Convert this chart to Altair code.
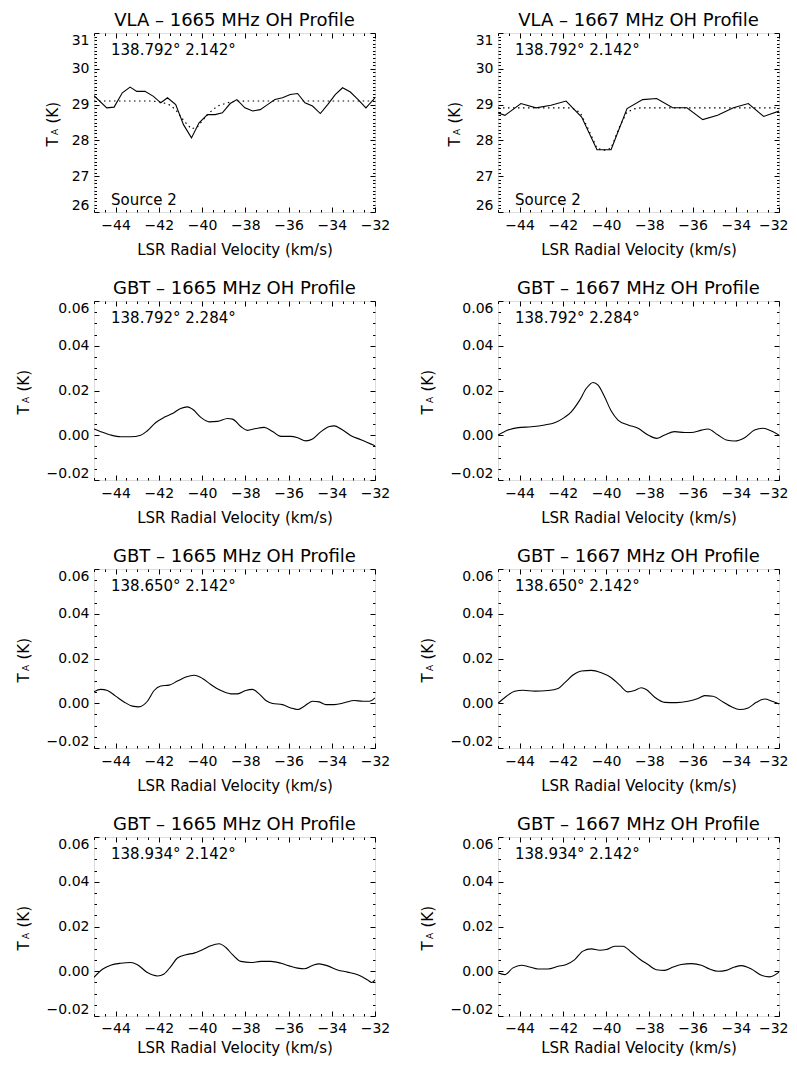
import altair as alt
import pandas as pd

FONT = "DejaVu Sans"
W, H = 281, 179

# ---------------- data ----------------
X_DOMAIN = [-45, -32]
X_MAJOR = [-44, -42, -40, -38, -36, -34, -32]
X_MINOR = [round(-45 + 0.5 * k, 2) for k in range(27) if (-45 + 0.5 * k) not in X_MAJOR]

VLA_DOMAIN = [26, 31]
VLA_MAJOR = [26, 27, 28, 29, 30, 31]
VLA_MINOR = [round(26 + 0.1 * k, 1) for k in range(51) if k % 10 != 0]

GBT_DOMAIN = [-0.02, 0.06]
GBT_MAJOR = [-0.02, 0.0, 0.02, 0.04, 0.06]
GBT_MINOR = [round(-0.02 + 0.005 * k, 3) for k in range(17) if k % 4 != 0]

TITLES = [
    "VLA \u2013 1665 MHz OH Profile", "VLA \u2013 1667 MHz OH Profile",
    "GBT \u2013 1665 MHz OH Profile", "GBT \u2013 1667 MHz OH Profile",
    "GBT \u2013 1665 MHz OH Profile", "GBT \u2013 1667 MHz OH Profile",
    "GBT \u2013 1665 MHz OH Profile", "GBT \u2013 1667 MHz OH Profile",
]
COORDS = [
    "138.792\u00b0 2.142\u00b0", "138.792\u00b0 2.142\u00b0",
    "138.792\u00b0 2.284\u00b0", "138.792\u00b0 2.284\u00b0",
    "138.650\u00b0 2.142\u00b0", "138.650\u00b0 2.142\u00b0",
    "138.934\u00b0 2.142\u00b0", "138.934\u00b0 2.142\u00b0",
]

vla1665_v = [-45.0, -44.41, -44.07, -43.69, -43.33, -43.02, -42.64, -42.25, -41.91, -41.60,
             -41.22, -40.86, -40.49, -40.14, -39.75, -39.40, -39.06, -38.70, -38.39, -38.02,
             -37.66, -37.31, -36.97, -36.63, -36.28, -35.92, -35.58, -35.24, -34.89, -34.53,
             -34.19, -33.84, -33.50, -33.14, -32.78, -32.42, -32.0]
vla1665_t = [29.25, 28.91, 28.93, 29.33, 29.49, 29.37, 29.37, 29.23, 29.05, 29.19,
             29.00, 28.44, 28.07, 28.49, 28.72, 28.72, 28.77, 29.03, 29.14, 28.91,
             28.82, 28.86, 29.00, 29.14, 29.19, 29.28, 29.31, 29.05, 28.96, 28.75,
             29.00, 29.28, 29.47, 29.35, 29.14, 28.91, 29.19]
vla1665_fit_v = [-45.0, -42.3, -41.91, -41.53, -41.22, -40.86, -40.49, -40.21, -39.98, -39.67,
                 -39.29, -38.82, -38.51, -38.0, -32.0]
vla1665_fit_t = [29.10, 29.10, 29.07, 29.00, 28.86, 28.56, 28.32, 28.38, 28.56, 28.77,
                 28.96, 29.05, 29.09, 29.10, 29.10]

vla1667_v = [-45.0, -44.68, -43.94, -43.24, -42.55, -41.85, -41.13, -40.42, -39.77, -39.03,
             -38.31, -37.66, -36.92, -36.26, -35.53, -34.84, -34.11, -33.42, -32.71, -32.0]
vla1667_t = [28.77, 28.70, 29.03, 28.91, 28.98, 29.10, 28.65, 27.74, 27.74, 28.89,
             29.14, 29.17, 28.91, 28.91, 28.58, 28.70, 28.91, 29.03, 28.67, 28.82]
vla1667_fit_v = [-45.0, -41.6, -41.2, -40.85, -40.42, -40.1, -39.77, -39.4, -39.05, -38.7,
                 -38.4, -32.0]
vla1667_fit_t = [28.91, 28.91, 28.78, 28.35, 27.78, 27.72, 27.78, 28.35, 28.78, 28.88,
                 28.91, 28.91]

gbt1665_a_v = [-45.0, -44.69, -44.23, -43.76, -43.30, -42.84, -42.53, -42.14, -41.76, -41.37,
               -40.99, -40.68, -40.45, -40.06, -39.67, -39.29, -38.82, -38.59, -38.21, -37.90,
               -37.51, -37.13, -36.74, -36.35, -35.89, -35.58, -35.20, -34.89, -34.50, -34.11,
               -33.88, -33.57, -33.11, -32.65, -32.0]
gbt1665_a_t = [0.0028, 0.0016, 0.0001, -0.0007, -0.0007, 0.0, 0.0020, 0.0057, 0.0080, 0.0097,
               0.0120, 0.0127, 0.0117, 0.0080, 0.0060, 0.0062, 0.0075, 0.0072, 0.0039, 0.0022,
               0.0030, 0.0035, 0.0017, -0.0005, -0.0005, -0.0011, -0.0025, -0.0017, 0.0016, 0.0039,
               0.0042, 0.0028, -0.0002, -0.0020, -0.0047]

gbt1667_a_v = [-45.0, -44.54, -44.07, -43.46, -42.84, -42.38, -41.92, -41.61, -41.22, -40.91,
               -40.60, -40.37, -40.07, -39.76, -39.45, -38.98, -38.52, -38.06, -37.67, -37.29,
               -36.83, -36.36, -36.06, -35.59, -35.29, -34.82, -34.44, -34.05, -33.59, -33.13,
               -32.74, -32.35, -32.0]
gbt1667_a_t = [0.0, 0.0023, 0.0034, 0.0038, 0.0046, 0.0056, 0.0080, 0.0105, 0.0157, 0.0210,
               0.0236, 0.0224, 0.0172, 0.0108, 0.0068, 0.0046, 0.0031, 0.0001, -0.0014, 0.0001,
               0.0016, 0.0012, 0.0012, 0.0023, 0.0028, 0.0001, -0.0021, -0.0026, -0.0011, 0.0023,
               0.0031, 0.0019, 0.0001]

gbt1665_b_v = [-45.0, -44.69, -44.38, -44.0, -43.61, -43.22, -42.92, -42.53, -42.22, -41.91,
               -41.53, -41.14, -40.75, -40.37, -39.98, -39.60, -39.13, -38.67, -38.36, -37.98,
               -37.67, -37.36, -37.05, -36.74, -36.28, -35.89, -35.58, -35.27, -34.89, -34.58,
               -34.27, -33.88, -33.42, -32.96, -32.57, -32.26, -32.0]
gbt1665_b_t = [0.0051, 0.0062, 0.0057, 0.0032, 0.0006, -0.0013, -0.0016, 0.0009, 0.0057, 0.0077,
               0.0081, 0.0099, 0.0117, 0.0125, 0.0111, 0.0084, 0.0057, 0.0042, 0.0042, 0.0057,
               0.0062, 0.0042, 0.0012, -0.0001, -0.0006, -0.0021, -0.0028, -0.0013, 0.0009, 0.0006,
               -0.0006, -0.0006, 0.0002, 0.0012, 0.0009, 0.0009, 0.0024]

gbt1667_b_v = [-45.0, -44.61, -44.23, -43.84, -43.30, -42.69, -42.22, -41.92, -41.53, -41.14,
               -40.68, -40.22, -39.76, -39.37, -38.99, -38.68, -38.37, -38.14, -37.75, -37.29,
               -36.75, -36.21, -35.75, -35.44, -35.06, -34.59, -34.20, -33.82, -33.43, -33.05,
               -32.66, -32.32, -32.0]
gbt1667_b_t = [0.0, 0.0031, 0.0054, 0.0058, 0.0054, 0.0057, 0.0066, 0.0091, 0.0126, 0.0144,
               0.0147, 0.0136, 0.0114, 0.0081, 0.0051, 0.0057, 0.0069, 0.0061, 0.0027, 0.0004,
               0.0003, 0.0009, 0.0021, 0.0034, 0.0031, 0.0006, -0.0016, -0.0028, -0.0021, 0.0004,
               0.0019, 0.0009, -0.0003]

gbt1665_c_v = [-45.0, -44.61, -44.23, -43.76, -43.30, -42.99, -42.53, -42.06, -41.76, -41.45,
               -41.14, -40.75, -40.37, -39.98, -39.60, -39.21, -38.90, -38.59, -38.21, -37.74,
               -37.28, -36.82, -36.35, -35.97, -35.58, -35.27, -34.89, -34.58, -34.19, -33.73,
               -33.27, -32.80, -32.34, -32.15, -32.0]
gbt1665_c_t = [-0.0027, 0.0009, 0.0027, 0.0036, 0.0039, 0.0029, -0.0006, -0.0021, -0.0012, 0.0021,
               0.0059, 0.0074, 0.0081, 0.0096, 0.0114, 0.0123, 0.0106, 0.0074, 0.0044, 0.0039,
               0.0044, 0.0044, 0.0036, 0.0024, 0.0014, 0.0011, 0.0026, 0.0033, 0.0024, 0.0006,
               -0.0004, -0.0016, -0.0039, -0.0050, -0.0039]

gbt1667_c_v = [-45.0, -44.69, -44.31, -43.92, -43.54, -43.15, -42.69, -42.22, -41.84, -41.45,
               -41.07, -40.68, -40.30, -39.99, -39.60, -39.22, -38.83, -38.45, -38.06, -37.68,
               -37.29, -36.90, -36.52, -36.05, -35.59, -35.21, -34.82, -34.44, -34.05, -33.74,
               -33.28, -32.81, -32.43, -32.0]
gbt1667_c_t = [-0.0007, -0.0015, 0.0015, 0.0027, 0.0019, 0.0010, 0.0010, 0.0022, 0.0030, 0.0052,
               0.0090, 0.0100, 0.0094, 0.0097, 0.0112, 0.0112, 0.0085, 0.0055, 0.0030, 0.0007,
               0.0004, 0.0019, 0.0030, 0.0034, 0.0027, 0.0010, 0.0, 0.0004, 0.0019, 0.0025,
               0.0010, -0.0018, -0.0025, -0.0004]

X_TITLE = "LSR Radial Velocity (km/s)"


# ---------------- helpers ----------------
def txt(s, x, y, size, angle=0, align="left"):
    return alt.Chart(pd.DataFrame({"s": [s]})).mark_text(
        align=align, baseline="alphabetic", font=FONT, fontSize=size,
        color="black", angle=angle
    ).encode(text="s:N", x=alt.value(x), y=alt.value(y))


def tick_axis(orient, values, size):
    return alt.Axis(orient=orient, values=values, tickSize=size, offset=-size,
                    labels=False, domain=False, grid=False, ticks=True,
                    tickColor="black", tickWidth=1, title=None)


def panel(idx, v, t, ydomain, ymajor, yminor, yfmt, ytx, interp,
          fit_v=None, fit_t=None, source=None):
    df = pd.DataFrame({"v": v, "t": t})
    xs = alt.Scale(domain=X_DOMAIN, nice=False, zero=False)
    ys = alt.Scale(domain=ydomain, nice=False, zero=False)
    right_col = idx % 2 == 1
    last_row = idx >= 6

    def line(xaxis, yaxis, opacity, data=df):
        return alt.Chart(data).mark_line(
            color="black", strokeWidth=1.1, clip=True, interpolate=interp,
            strokeOpacity=opacity
        ).encode(x=alt.X("v:Q", scale=xs, axis=xaxis),
                 y=alt.Y("t:Q", scale=ys, axis=yaxis))

    x_lab = alt.Axis(orient="bottom", values=X_MAJOR, ticks=False, domain=False, grid=False,
                     labelFont=FONT, labelFontSize=14, labelColor="black",
                     labelBaseline="top", labelAngle=0,
                     labelPadding=5 if last_row else 6,
                     labelFlush=right_col, labelFlushOffset=9 if right_col else 0,
                     labelOverlap=False,
                     title=X_TITLE, titleFont=FONT, titleFontSize=15, titleFontWeight="normal",
                     titleColor="black", titlePadding=5 if last_row else 10)
    y_lab = alt.Axis(orient="left", values=ymajor, ticks=False, domain=False, grid=False,
                     labelFont=FONT, labelFontSize=14, labelColor="black", labelPadding=5,
                     labelFlush=True, labelOverlap=False, format=yfmt, title=None)

    layers = [
        line(tick_axis("bottom", X_MAJOR, 5), tick_axis("left", ymajor, 5), 0),
        line(tick_axis("bottom", X_MINOR, 2.5), tick_axis("left", yminor, 2.5), 0),
        line(tick_axis("top", X_MAJOR, 5), tick_axis("right", ymajor, 5), 0),
        line(tick_axis("top", X_MINOR, 2.5), tick_axis("right", yminor, 2.5), 0),
        line(x_lab, y_lab, 1),
    ]
    if fit_v is not None:
        fit = alt.Chart(pd.DataFrame({"v": fit_v, "t": fit_t})).mark_line(
            color="black", strokeWidth=1.2, strokeDash=[1.5, 3.5], clip=True
        ).encode(x=alt.X("v:Q", scale=xs, axis=None), y=alt.Y("t:Q", scale=ys, axis=None))
        layers.append(fit)
    # panel title
    layers.append(txt(TITLES[idx], W / 2, -7, 18, align="center"))
    layers.append(txt(COORDS[idx], 17, 22, 15))
    if source:
        layers.append(txt(source, 17, H - 7, 15))
    cy = H / 2
    layers += [
        txt("T", ytx, cy + 24, 15, 270),
        txt("A", ytx, cy + 12.5, 9, 270),
        txt("(K)", ytx, cy + 1, 15, 270),
    ]
    return alt.layer(*layers).resolve_axis(x="independent", y="independent").properties(
        width=W, height=H
    )


panels = [
    panel(0, vla1665_v, vla1665_t, VLA_DOMAIN, VLA_MAJOR, VLA_MINOR, "d", -36, "linear",
          vla1665_fit_v, vla1665_fit_t, "Source 2"),
    panel(1, vla1667_v, vla1667_t, VLA_DOMAIN, VLA_MAJOR, VLA_MINOR, "d", -38, "linear",
          vla1667_fit_v, vla1667_fit_t, "Source 2"),
    panel(2, gbt1665_a_v, gbt1665_a_t, GBT_DOMAIN, GBT_MAJOR, GBT_MINOR, ".2f", -65, "monotone"),
    panel(3, gbt1667_a_v, gbt1667_a_t, GBT_DOMAIN, GBT_MAJOR, GBT_MINOR, ".2f", -65, "monotone"),
    panel(4, gbt1665_b_v, gbt1665_b_t, GBT_DOMAIN, GBT_MAJOR, GBT_MINOR, ".2f", -65, "monotone"),
    panel(5, gbt1667_b_v, gbt1667_b_t, GBT_DOMAIN, GBT_MAJOR, GBT_MINOR, ".2f", -65, "monotone"),
    panel(6, gbt1665_c_v, gbt1665_c_t, GBT_DOMAIN, GBT_MAJOR, GBT_MINOR, ".2f", -65, "monotone"),
    panel(7, gbt1667_c_v, gbt1667_c_t, GBT_DOMAIN, GBT_MAJOR, GBT_MINOR, ".2f", -65, "monotone"),
]

chart = alt.concat(
    *panels, columns=2, spacing={"row": 89, "column": 123}, bounds="flush"
).properties(
    padding={"left": 8, "top": 3, "right": 0, "bottom": 0}
).configure_view(
    stroke="black", strokeWidth=1
).configure(background="white")

chart.save("out.html", embed_options={"renderer": "svg", "actions": False})
